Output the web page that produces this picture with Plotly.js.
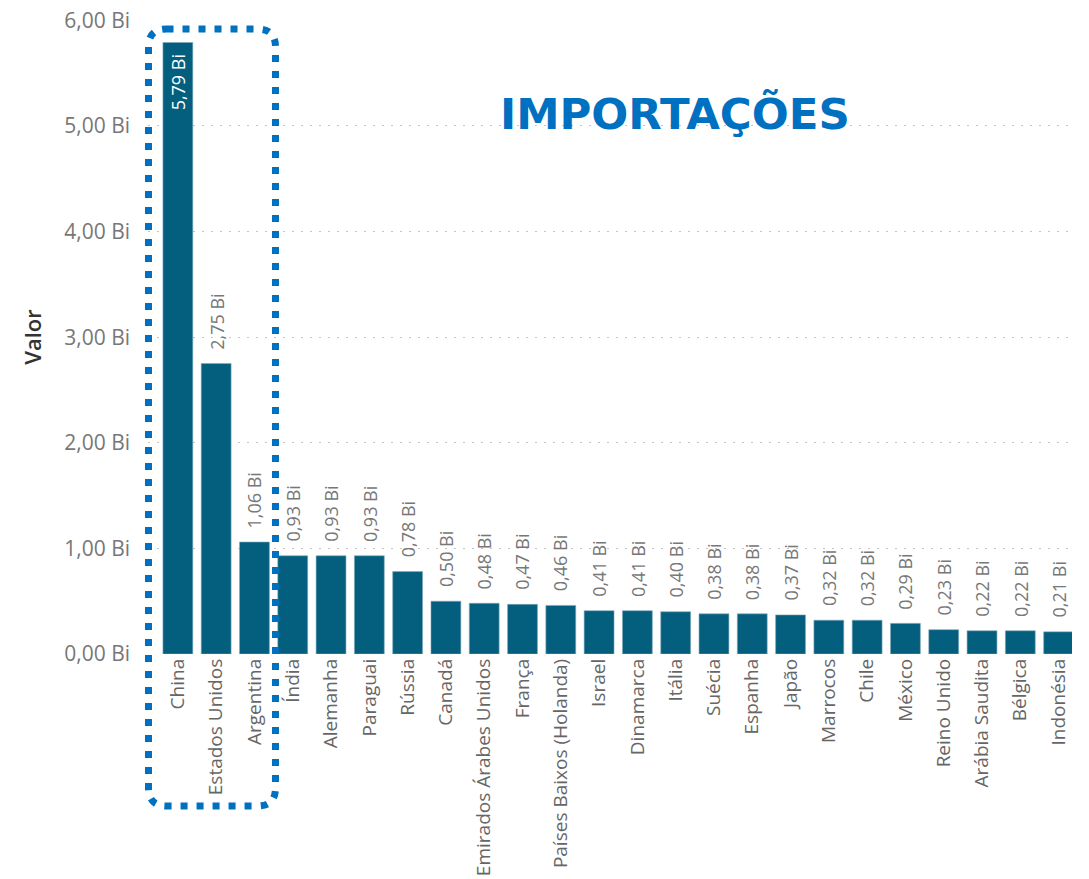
<!DOCTYPE html>
<html>
<head>
<meta charset="utf-8">
<script src="https://cdn.plot.ly/plotly-3.0.1.min.js"></script>
<style>
html,body{margin:0;padding:0;background:#fff;}
#chart{width:1089px;height:879px;}
</style>
</head>
<body>
<div id="chart"></div>
<script>
const categories = ["China","Estados Unidos","Argentina","Índia","Alemanha","Paraguai","Rússia","Canadá","Emirados Árabes Unidos","França","Países Baixos (Holanda)","Israel","Dinamarca","Itália","Suécia","Espanha","Japão","Marrocos","Chile","México","Reino Unido","Arábia Saudita","Bélgica","Indonésia"];
const values = [5.79,2.75,1.06,0.93,0.93,0.93,0.78,0.50,0.48,0.47,0.46,0.41,0.41,0.40,0.38,0.38,0.37,0.32,0.32,0.29,0.23,0.22,0.22,0.21];
const yTicks = [0,1,2,3,4,5,6];
const titleText = "IMPORTAÇÕES";
const yTitle = "Valor";

const W = 1089, H = 879;
const M = {l:148, r:17, t:20, b:225};
const fmt = v => v.toFixed(2).replace('.', ',') + ' Bi';

// pixel -> paper helpers for the decorative highlight frame
const pw = W - M.l - M.r, ph = H - M.t - M.b;
const px = x => (x - M.l) / pw;
const py = y => (H - M.b - y) / ph;
function roundRect(x0, y0, x1, y1, r) {
  const P = (x, y) => px(x) + ',' + py(y);
  return 'M' + P(x0 + r, y0) + ' L' + P(x1 - r, y0) + ' Q' + P(x1, y0) + ' ' + P(x1, y0 + r) +
         ' L' + P(x1, y1 - r) + ' Q' + P(x1, y1) + ' ' + P(x1 - r, y1) +
         ' L' + P(x0 + r, y1) + ' Q' + P(x0, y1) + ' ' + P(x0, y1 - r) +
         ' L' + P(x0, y0 + r) + ' Q' + P(x0, y0) + ' ' + P(x0 + r, y0) + ' Z';
}

const trace = {
  type: 'bar',
  x: categories,
  y: values,
  marker: {color: '#045F7E', line: {color: '#7fa9bb', width: 0.6}},
  hoverinfo: 'x+y'
};

// data labels, placed via the axes' own scales
const labelAnns = categories.map((c, i) => {
  const v = values[i];
  const inside = v > 5;
  return {
    x: c, y: v, xref: 'x', yref: 'y',
    text: fmt(v),
    textangle: -90,
    showarrow: false,
    xanchor: 'center',
    yanchor: inside ? 'top' : 'bottom',
    yshift: inside ? -10 : 12,
    font: {family: 'Open Sans', size: 18, color: inside ? '#ffffff' : '#777'}
  };
});

const layout = {
  width: W, height: H,
  margin: M,
  paper_bgcolor: '#fff',
  plot_bgcolor: '#fff',
  separators: ',.',
  showlegend: false,
  bargap: 0.22,
  font: {family: 'Open Sans', color: '#666'},
  xaxis: {
    type: 'category',
    range: [-0.78, 23.35],
    tickangle: -90,
    tickfont: {family: 'Open Sans', size: 19, color: '#666'},
    showgrid: false, zeroline: false, showline: false,
    ticks: '', automargin: false
  },
  yaxis: {
    range: [0, 6.003],
    tickvals: yTicks,
    ticktext: yTicks.map(fmt),
    tickfont: {family: 'Open Sans', size: 21, color: '#777'},
    ticklabelstandoff: 17,
    showgrid: true,
    gridcolor: '#c4c4c4',
    gridwidth: 1,
    griddash: '2px,7px',
    zeroline: false, showline: false, ticks: '',
    automargin: false,
    title: {text: yTitle, font: {family: 'Open Sans', size: 22, color: '#333', weight: 600}, standoff: 16}
  },
  annotations: labelAnns.concat([{
    text: titleText,
    xref: 'paper', yref: 'paper',
    x: px(674.5), y: py(114),
    xanchor: 'center', yanchor: 'middle',
    showarrow: false,
    font: {family: 'DejaVu Sans', size: 43.5, color: '#0070C0', weight: 'bold'}
  }]),
  shapes: [{
    type: 'path',
    xref: 'paper', yref: 'paper',
    path: roundRect(148.5, 29, 275.5, 806, 18),
    line: {color: '#0070C0', width: 7, dash: '7px,9px'},
    fillcolor: 'rgba(0,0,0,0)',
    layer: 'above'
  }]
};

Plotly.newPlot('chart', [trace], layout, {displayModeBar: false, staticPlot: true});
</script>
</body>
</html>
